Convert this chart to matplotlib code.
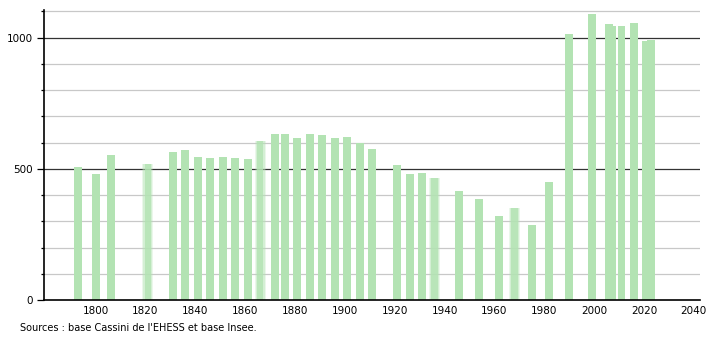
import matplotlib.pyplot as plt
from matplotlib.ticker import MultipleLocator

# Census years and population
years = [1793, 1800, 1806, 1821, 1831, 1836, 1841, 1846, 1851, 1856,
         1861, 1866, 1872, 1876, 1881, 1886, 1891, 1896, 1901, 1906,
         1911, 1921, 1926, 1931, 1936, 1946, 1954, 1962, 1968, 1975,
         1982, 1990, 1999, 2006, 2007, 2011, 2016, 2021, 2023]
population = [505, 480, 551, 520, 565, 571, 544, 542, 546, 542,
              538, 605, 633, 633, 618, 633, 628, 618, 622, 600,
              576, 515, 481, 484, 466, 414, 386, 320, 350, 286,
              450, 1013, 1089, 1051, 1044, 1043, 1055, 985, 992]
# years whose bars are drawn with soft (blurred) edges
soft_years = [1821, 1866, 1936, 1968]

bar_color = '#b3e3b3'

fig = plt.figure(figsize=(7.1, 3.4), dpi=100)
ax = fig.add_axes([44 / 710, 40 / 340, 656 / 710, 290 / 340])

# Grid lines: light every 100, dark at 500 and 1000
for v in range(100, 1101, 100):
    if v % 500 == 0:
        ax.axhline(v, color='#333333', lw=0.9, zorder=1)
    else:
        ax.axhline(v, color='#c8c8c8', lw=0.9, zorder=1)

for yr, pop in zip(years, population):
    if yr in soft_years:
        for w, a in [(4.4, 0.25), (3.6, 0.4), (2.6, 0.8)]:
            ax.bar(yr, pop, width=w, color=bar_color, alpha=a, lw=0, zorder=2)
    else:
        ax.bar(yr, pop, width=3.2, color=bar_color, lw=0, zorder=2)

ax.set_xlim(1779.3, 2042.5)
ax.set_ylim(0, 1105)

ax.set_xticks(range(1800, 2041, 20))
ax.tick_params(axis='x', length=0, labelsize=7.5, pad=4)
ax.set_yticks([0, 500, 1000])
ax.yaxis.set_minor_locator(MultipleLocator(100))
ax.tick_params(axis='y', which='major', length=5, width=0.9, labelsize=7.5, pad=3)
ax.tick_params(axis='y', which='minor', length=2.5, width=0.9)

for side in ['top', 'right']:
    ax.spines[side].set_visible(False)
for side in ['left', 'bottom']:
    ax.spines[side].set_linewidth(1.2)
    ax.spines[side].set_zorder(3)

fig.text(20 / 710, 1 - 328 / 340, "Sources : base Cassini de l'EHESS et base Insee.",
         fontsize=7, va='center', ha='left')

fig.savefig('out.png', dpi=100)
